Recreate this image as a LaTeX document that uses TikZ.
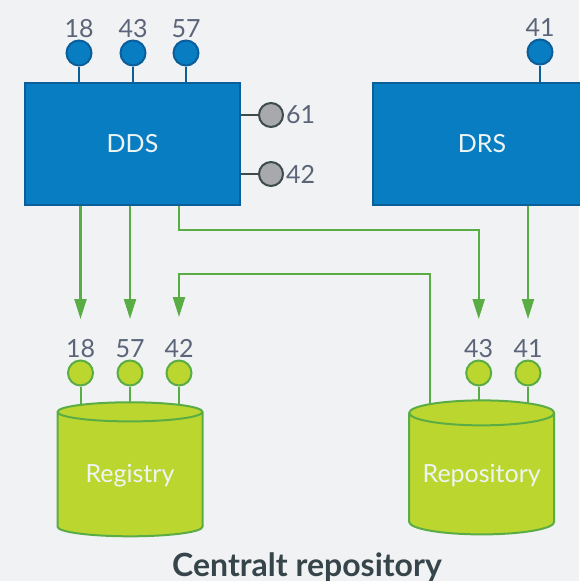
\documentclass[tikz,border=0pt]{standalone}
\usepackage{fontspec}
\setmainfont{Lato}
\usetikzlibrary{shapes.geometric,arrows.meta,backgrounds}
\definecolor{bgcol}{HTML}{F1F2F4}
\definecolor{boxblue}{HTML}{087DC2}
\definecolor{boxedge}{HTML}{0B5E9A}
\definecolor{pingray}{HTML}{A8A9AD}
\definecolor{grayedge}{HTML}{3D4B4B}
\definecolor{lime}{HTML}{BCD630}
\definecolor{leaf}{HTML}{5AAD45}
\definecolor{numtext}{HTML}{5B6478}
\definecolor{titletext}{HTML}{36454A}
\definecolor{softwhite}{HTML}{EEF4F4}
\begin{document}
\begin{tikzpicture}[
        x=1pt, y=-1pt,
        every node/.style={align=center, font=\fontsize{25}{30}\selectfont},
        every label/.style={text=numtext, inner sep=2pt},
        box/.style={rectangle, draw=boxedge, fill=boxblue, line width=2.5pt, text=softwhite, minimum height=122pt},
        bluepin/.style={circle, draw=boxedge, fill=boxblue, line width=2pt, inner sep=0pt, minimum size=25pt},
        graypin/.style={circle, draw=grayedge, fill=pingray, line width=2pt, inner sep=0pt, minimum size=24pt},
        greenpin/.style={circle, draw=leaf, fill=lime, line width=2pt, inner sep=0pt, minimum size=25pt, every label/.append style={yshift=6pt}},
        store/.style={cylinder, shape border rotate=90, aspect=0.2, draw=leaf, fill=lime, line width=2pt, text=softwhite, minimum width=145pt, minimum height=134pt},
        bluestem/.style={draw=boxedge, line width=2pt},
        graystem/.style={draw=grayedge, line width=2.5pt},
        greenstem/.style={draw=leaf, line width=2pt},
        flow/.style={draw=leaf, line width=2.2pt, -{Triangle[length=20pt, width=12pt]}}
    ]
    \useasboundingbox (0,0) rectangle (579,581);

    % Nodes
    \node (dds) [box, minimum width=215pt] at (132.5,144) {DDS};
    \node (drs) [box, minimum width=218pt] at (482,144) {DRS};

    \node (d18) [bluepin, label={above:18}] at (79,53) {};
    \node (d43) [bluepin, label={above:43}] at (133,53) {};
    \node (d57) [bluepin, label={above:57}] at (186,53) {};
    \node (s41) [bluepin, label={above:41}] at (540,52) {};

    \node (o61) [graypin, label={right:61}] at (271,115) {};
    \node (o42) [graypin, label={right:42}] at (271,174) {};

    \node (reg) [store] at (130,476) {Registry};
    \node (rep) [store] at (481.7,476) {Repository};

    \node (r18) [greenpin, label={above:18}] at (80.5,373) {};
    \node (r57) [greenpin, label={above:57}] at (130,373) {};
    \node (r42) [greenpin, label={above:42}] at (179,373) {};
    \node (q43) [greenpin, label={above:43}] at (478.7,373) {};
    \node (q41) [greenpin, label={above:41}] at (528,373) {};

    \node (title) [font=\fontsize{32}{38}\selectfont\bfseries, text=titletext, anchor=base] at (307,576) {Centralt repository};

    % Stems
    \draw [bluestem] (d18) -- (d18 |- dds.north);
    \draw [bluestem] (d43) -- (d43 |- dds.north);
    \draw [bluestem] (d57) -- (d57 |- dds.north);
    \draw [bluestem] (s41) -- (s41 |- drs.north);
    \draw [graystem] (o61) -- (o61 -| dds.east);
    \draw [graystem] (o42) -- (o42 -| dds.east);

    \begin{scope}[on background layer]
    \fill [bgcol] (0,0) rectangle (579,581);
    \draw [greenstem] (r18) -- (r18 |- reg.center);
    \draw [greenstem] (r57) -- (r57 |- reg.center);
    \draw [greenstem] (r42) -- (r42 |- reg.center);
    \draw [greenstem] (q43) -- (q43 |- rep.center);
    \draw [greenstem] (q41) -- (q41 |- rep.center);

    % Arrows
    \draw [flow] ([xshift=-51.7pt]rep.center) |- ([yshift=85.5pt]r42.north) -- ([yshift=42.5pt]r42.north);
    \end{scope}

    \draw [flow] (dds.south -| r18) -- ([yshift=40.5pt]r18.north);
    \draw [flow] (dds.south -| r57) -- ([yshift=40.5pt]r57.north);
    \draw [flow] (dds.south -| r42) -- ++(0,24) -| ([yshift=40.5pt]q43.north);
    \draw [flow] (drs.south -| q41) -- ([yshift=40.5pt]q41.north);

\end{tikzpicture}
\end{document}
